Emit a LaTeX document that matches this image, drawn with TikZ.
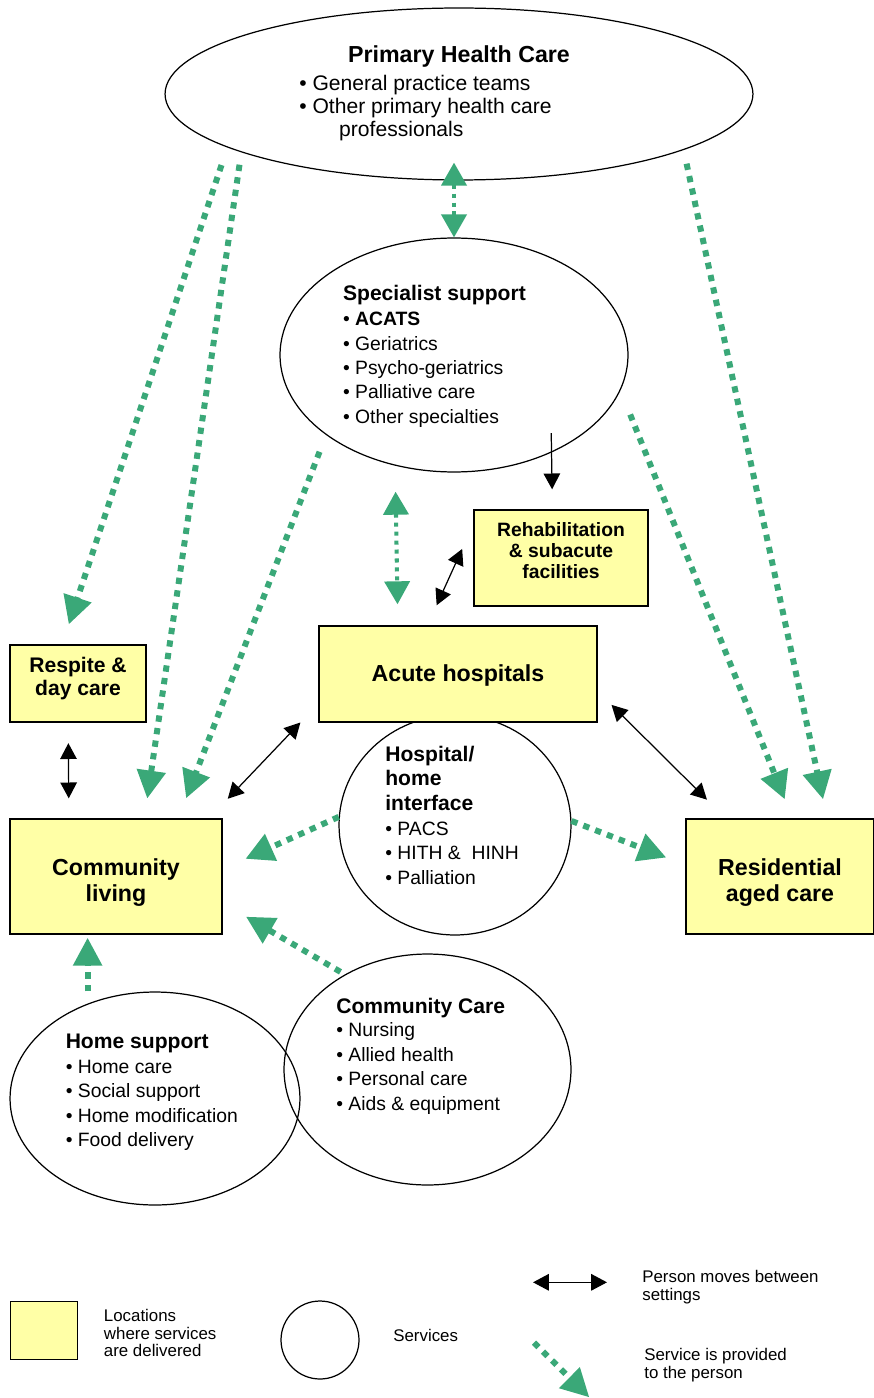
\documentclass[tikz,border=0pt]{standalone}
\usepackage{fontspec}
\setmainfont{Liberation Sans}
\usetikzlibrary{shapes.geometric,arrows.meta}
\definecolor{servgreen}{RGB}{58,168,120}
\definecolor{locyellow}{RGB}{255,255,166}
\newcommand{\bighead}{\fontsize{13.2}{15.1}\selectfont\bfseries}
\newcommand{\midhead}{\fontsize{12}{13.2}\selectfont\bfseries}
\newcommand{\svchead}{\fontsize{12}{13.8}\selectfont\bfseries}
\newcommand{\smallhead}{\fontsize{11}{11.9}\selectfont\bfseries}
\newcommand{\phctext}{\fontsize{12}{13.3}\selectfont}
\newcommand{\itemtext}{\fontsize{11}{13.9}\selectfont}
\newcommand{\legtext}{\fontsize{9.6}{9.9}\selectfont}

\begin{document}
\begin{tikzpicture}[x=0.02cm, y=-0.02cm,
  loc/.style={draw, fill=locyellow, line width=0.8pt, inner sep=0pt, align=center, text depth=0pt},
  svc/.style={ellipse, draw, line width=0.7pt, inner sep=0pt},
  txt/.style={inner sep=0pt, anchor=base west, align=left},
  serv/.style={servgreen, line width=3.4pt, dash pattern=on 3.6pt off 3.6pt,
    -{Triangle[length=0.56cm,width=0.56cm]}},
  servthin/.style={servgreen, line width=2.3pt, dash pattern=on 2.3pt off 2.8pt,
    {Triangle[length=0.46cm,width=0.5cm]}-{Triangle[length=0.46cm,width=0.5cm]}},
  move/.style={line width=0.7pt,
    {Triangle[length=9pt,width=9.4pt]}-{Triangle[length=9pt,width=9.4pt]}},
  moveto/.style={line width=0.7pt, -{Triangle[length=9pt,width=9.4pt]}}]
  \useasboundingbox (0,0) rectangle (873,1398);

  % services
  \node[svc, minimum width=11.76cm, minimum height=3.44cm] (phc) at (459,94) {};
  \node[svc, minimum width=6.96cm, minimum height=4.68cm] (spec) at (454,355) {};
  \node[svc, minimum width=4.64cm, minimum height=4.4cm] (hhi) at (455,825) {};
  \node[svc, minimum width=5.8cm, minimum height=4.26cm] (homes) at (155,1098.5) {};
  \node[svc, minimum width=5.74cm, minimum height=4.62cm] (ccare) at (427.5,1069.5) {};

  % locations
  \node[loc, minimum width=3.48cm, minimum height=1.92cm, font=\smallhead, text height=23pt]
    (rehab) at (561,558) {Rehabilitation\\ \& subacute\\ facilities};
  \node[loc, minimum width=5.56cm, minimum height=1.92cm, font=\bighead, text height=8.7pt]
    (acute) at (458,674) {Acute hospitals};
  \node[loc, minimum width=2.72cm, minimum height=1.54cm, font=\midhead, text height=14.2pt]
    (respite) at (78,683.5) {Respite \&\\ day care};
  \node[loc, minimum width=4.24cm, minimum height=2.3cm, font=\bighead, text height=28.6pt]
    (comm) at (116,876.5) {Community\\ living};
  \node[loc, minimum width=3.76cm, minimum height=2.3cm, font=\bighead, text height=28.6pt]
    (resid) at (780,876.5) {Residential\\ aged care};

  % texts of the services (base = last line)
  \node[txt, anchor=base, font=\bighead] (phcttl) at (459,63) {Primary Health Care};
  \node[txt, font=\phctext] (phclist) at (299,137)
    {• General practice teams\\ • Other primary health care\\ \hspace*{22.7pt}professionals};
  \node[txt, font=\svchead] (specttl) at (342.7,300.7) {Specialist support};
  \node[txt, font=\itemtext] (speclist) at (342.7,423.3)
    {• \textbf{ACATS}\\ • Geriatrics\\ • Psycho-geriatrics\\ • Palliative care\\ • Other specialties};
  \node[txt, font=\svchead] (hhittl) at (385,810) {Hospital/\\ home\\ interface};
  \node[txt, font=\itemtext] (hhilist) at (385,884.3) {• PACS\\ • HITH \& \ HINH\\ • Palliation};
  \node[txt, font=\svchead] (homesttl) at (65.4,1048.3) {Home support};
  \node[txt, font=\itemtext] (homeslist) at (65.4,1146.7)
    {• Home care\\ • Social support\\ • Home modification\\ • Food delivery};
  \node[txt, font=\svchead] (ccarettl) at (336,1013.3) {Community Care};
  \node[txt, font=\itemtext] (ccarelist) at (336,1110)
    {• Nursing\\ • Allied health\\ • Personal care\\ • Aids \& equipment};

  % service is provided
  \draw[serv, shorten <=0.37cm, shorten >=0.42cm] (phc.193) -- (respite.112.2);
  \draw[serv, shorten <=0.25cm, shorten >=0.40cm] (phc.195.2) -- (comm.64);
  \draw[serv, shorten <=0.28cm, shorten >=0.39cm] (phc.346.3) -- (resid.51.3);
  \draw[servthin, shorten <=-0.36cm] (phc.south -| spec.north) -- (spec.north);
  \draw[serv, shorten <=0.36cm, shorten >=0.43cm] (spec.212) -- (comm.43.2);
  \draw[serv, shorten <=0.52cm, shorten >=0.41cm] (spec.348.4) -- (resid.78.6);
  \draw[servthin, shorten <=0.52cm, shorten >=0.42cm] (spec.242.9) -- (acute.141.7);
  \draw[serv, shorten >=0.5cm] (hhi.176.6) -- (comm.4.7);
  \draw[serv, shorten >=0.41cm] (hhi.2.9) -- (resid.173.6);
  \draw[serv, shorten <=0.1cm, shorten >=0.54cm] (ccare.131.6) -- (comm.346.4);
  \draw[serv, shorten >=0.06cm] (homes.north -| comm.244) -- (comm.244);

  % person moves
  \draw[moveto, shorten <=-0.39cm, shorten >=0.4cm] (spec.315.4) -- (rehab.100.6);
  \draw[move, shorten <=0.44cm, shorten >=0.54cm] (acute.122.4) -- (rehab.159.1);
  \draw[move, shorten <=0.41cm, shorten >=0.4cm] (respite.256.1) -- (comm.129.6);
  \draw[move, shorten <=0.52cm, shorten >=0.54cm] (acute.192.3) -- (comm.32.9);
  \draw[move, shorten <=0.39cm, shorten >=0.53cm] (acute.353.7) -- (resid.133.9);

  % legend
  \node[loc, minimum width=1.34cm, minimum height=1.16cm] (lgloc) at (44,1330.5) {};
  \node[txt, font=\legtext] (lgloctxt) at (103.6,1356.7) {Locations\\ where services\\ are delivered};
  \node[svc, minimum size=1.56cm] (lgsvc) at (320,1340) {};
  \node[txt, font=\legtext] (lgsvctxt) at (393,1341.7) {Services};
  \coordinate (lgm1) at (533,1282.3);
  \coordinate (lgm2) at (607,1282.3);
  \draw[move] (lgm1) -- (lgm2);
  \node[txt, font=\legtext] (lgmovetxt) at (642,1300) {Person moves between\\ settings};
  \coordinate (lgs1) at (534,1342.7);
  \coordinate (lgs2) at (589.3,1397.3);
  \draw[serv] (lgs1) -- (lgs2);
  \node[txt, font=\legtext] (lgservtxt) at (644,1378.3) {Service is provided\\ to the person};
\end{tikzpicture}
\end{document}
